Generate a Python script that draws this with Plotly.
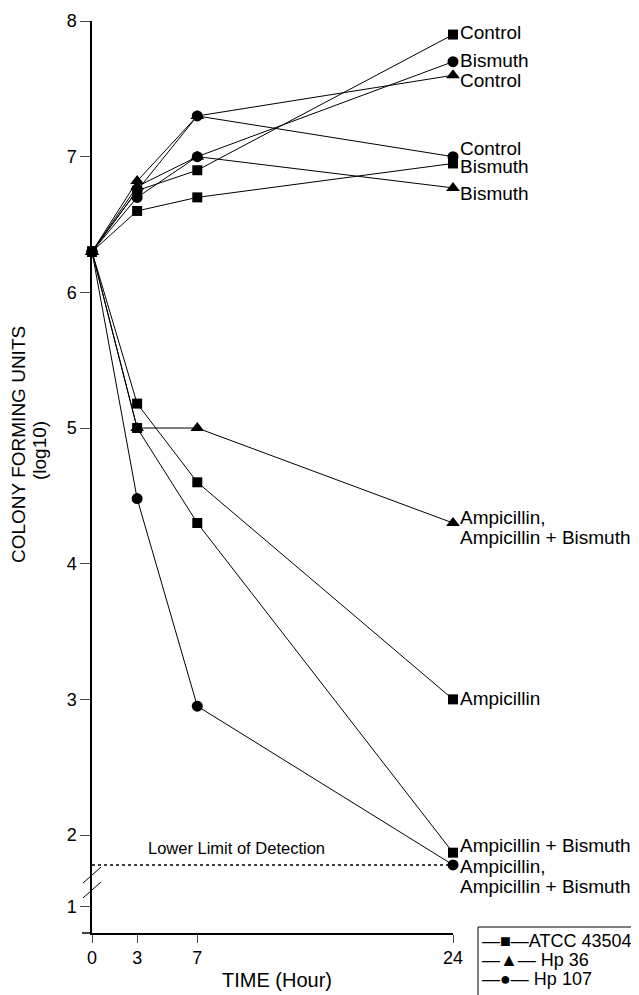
import plotly.graph_objects as go

hours = [0, 3, 7, 24]

atcc_control = [6.3, 6.75, 6.9, 7.9]
atcc_bismuth = [6.3, 6.6, 6.7, 6.95]
atcc_ampicillin = [6.3, 5.18, 4.6, 3.0]
atcc_amp_bismuth = [6.3, 5.0, 4.3, 1.87]

hp36_control = [6.3, 6.82, 7.3, 7.6]
hp36_bismuth = [6.3, 6.78, 7.0, 6.77]
hp36_ampicillin = [6.3, 5.0, 5.0, 4.3]

hp107_control = [6.3, 6.75, 7.3, 7.0]
hp107_bismuth = [6.3, 6.7, 7.0, 7.7]
hp107_ampicillin = [6.3, 4.48, 2.95, 1.78]

lower_limit = 1.78

legend_labels = ["\u2014\u25A0\u2014ATCC 43504", "\u2014\u25B2\u2014 Hp 36", "\u2014\u25CF\u2014 Hp 107"]
y_tick_vals = [2, 3, 4, 5, 6, 7, 8]
y_tick_text = ["2", "3", "4", "5", "6", "7", "8"]
x_tick_vals = [0, 3, 7, 24]

FONT = "Liberation Sans, Arial, sans-serif"

# drawing order: squares, circles, triangles (triangles on top)
series = [
    (atcc_control, "square", 10),
    (atcc_bismuth, "square", 10),
    (atcc_ampicillin, "square", 10),
    (atcc_amp_bismuth, "square", 10),
    (hp107_control, "circle", 11),
    (hp107_bismuth, "circle", 11),
    (hp107_ampicillin, "circle", 11),
    (hp36_control, "triangle-up", 12),
    (hp36_bismuth, "triangle-up", 12),
    (hp36_ampicillin, "triangle-up", 12),
]

fig = go.Figure()

# lower limit of detection dashed line
fig.add_trace(go.Scatter(
    x=[0, 24], y=[lower_limit, lower_limit], mode="lines",
    line=dict(color="black", width=1.5, dash="3px,3px"), showlegend=False,
    cliponaxis=False,
))

for vals, sym, size in series:
    fig.add_trace(go.Scatter(
        x=hours, y=vals, mode="lines+markers",
        line=dict(color="black", width=1),
        marker=dict(symbol=sym, size=size, color="black"),
        showlegend=False, cliponaxis=False,
    ))

BREAK_ONE = 1.47
Y_MIN = 1.278

# plot area in the browser window: x 92..453, y 21..933 (page has 8px body margin)
PX_L, PX_R, PX_T, PX_B = 92, 453, 21, 933
PW, PH = PX_R - PX_L, PX_B - PX_T


def px_x(px):
    return (px - PX_L) / PW


def px_y(py):
    return (PX_B - py) / PH


labels = [
    ("Control", 7.915), ("Bismuth", 7.71), ("Control", 7.565),
    ("Control", 7.06), ("Bismuth", 6.93), ("Bismuth", 6.73),
    ("Ampicillin,", 4.34), ("Ampicillin + Bismuth", 4.19),
    ("Ampicillin", 3.01),
    ("Ampicillin + Bismuth", 1.92),
    ("Ampicillin,", 1.765), ("Ampicillin + Bismuth", 1.62),
]
annotations = []
for txt, yv in labels:
    annotations.append(dict(
        x=24, y=yv, xref="x", yref="y", text=txt, showarrow=False,
        xanchor="left", yanchor="middle", align="left", xshift=5,
        font=dict(size=19, family=FONT, color="black"),
    ))
annotations.append(dict(
    x=9.6, y=1.905, xref="x", yref="y", text="Lower Limit of Detection",
    xanchor="center", yanchor="middle",
    showarrow=False, font=dict(size=16.5, family=FONT, color="black"),
))
annotations.append(dict(
    x=px_x(18), y=px_y(445), xref="paper", yref="paper",
    xanchor="center", yanchor="middle",
    text="COLONY FORMING UNITS", showarrow=False, textangle=-90,
    font=dict(size=19, family=FONT, color="black"),
))
annotations.append(dict(
    x=px_x(39), y=px_y(450), xref="paper", yref="paper",
    xanchor="center", yanchor="middle",
    text="(log10)", showarrow=False, textangle=-90,
    font=dict(size=19, family=FONT, color="black"),
))
annotations.append(dict(
    x=px_x(277), y=px_y(980), xref="paper", yref="paper",
    xanchor="center", yanchor="middle", text="TIME (Hour)", showarrow=False,
    font=dict(size=20, family=FONT, color="black"),
))
# custom legend text
for i, txt in enumerate(legend_labels):
    annotations.append(dict(
        x=px_x(480), y=px_y(941 + 19 * i),
        xref="paper", yref="paper", xanchor="left", yanchor="middle",
        text=txt, showarrow=False,
        font=dict(size=18, family=FONT, color="black"),
    ))

shapes = [
    # break marks
    dict(type="line", xref="paper", yref="y", x0=px_x(83), x1=px_x(101), y0=1.646, y1=1.764,
         line=dict(color="black", width=1)),
    dict(type="line", xref="paper", yref="y", x0=px_x(83), x1=px_x(101), y0=1.536, y1=1.654,
         line=dict(color="black", width=1)),
    # bottom tick of y axis extending left
    dict(type="line", xref="paper", yref="paper", x0=px_x(82), x1=0, y0=0, y1=0,
         line=dict(color="black", width=1.5)),
    # legend box
    dict(type="rect", xref="paper", yref="paper",
         x0=px_x(478), x1=px_x(637), y0=px_y(1010), y1=px_y(927),
         line=dict(color="black", width=1), fillcolor="rgba(0,0,0,0)"),
]

FIG_W, FIG_H = 631, 987
fig.update_layout(
    width=FIG_W, height=FIG_H,
    margin=dict(l=PX_L - 8, r=FIG_W - (PX_R - 8), t=PX_T - 8, b=FIG_H - (PX_B - 8),
                autoexpand=False),
    plot_bgcolor="white", paper_bgcolor="white",
    font=dict(family=FONT, size=18, color="black"),
    xaxis=dict(
        range=[0, 24], tickvals=x_tick_vals, ticks="outside", ticklen=8,
        showline=True, linecolor="black", linewidth=1.5, showgrid=False,
        zeroline=False, tickfont=dict(size=18, family=FONT), automargin=False,
    ),
    yaxis=dict(
        range=[Y_MIN, 8], tickvals=[BREAK_ONE] + y_tick_vals,
        ticktext=["1"] + y_tick_text, ticks="outside", ticklen=10,
        showline=True, linecolor="black", linewidth=1.5, showgrid=False,
        zeroline=False, tickfont=dict(size=18, family=FONT), automargin=False,
    ),
    showlegend=False,
    annotations=annotations,
    shapes=shapes,
)

fig.write_html("out.html")
